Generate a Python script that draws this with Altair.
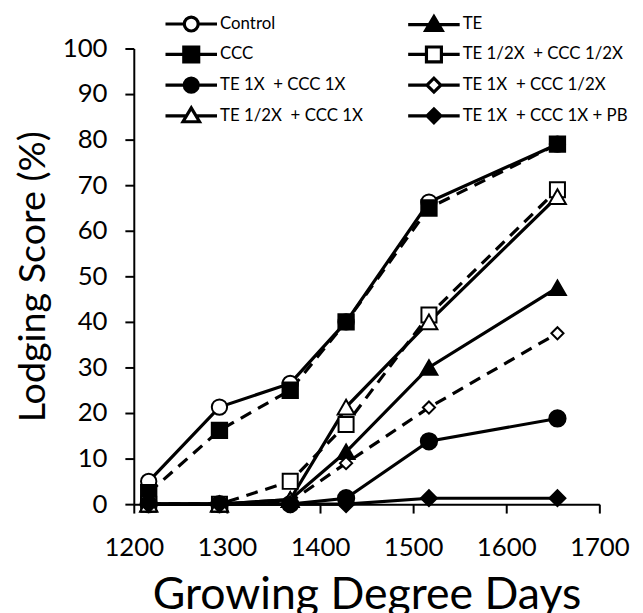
import altair as alt
import pandas as pd

gdd = [1216, 1292, 1368, 1428, 1517, 1655]

series_names = [
    "Control",
    "TE",
    "CCC",
    "TE 1/2X\u00a0 + CCC 1/2X",
    "TE 1X\u00a0 + CCC 1X",
    "TE 1X\u00a0 + CCC 1/2X",
    "TE 1/2X\u00a0 + CCC 1X",
    "TE 1X\u00a0 + CCC 1X + PB",
]

control = [5.0, 21.3, 26.5, 40.0, 66.3, 79.0]
te = [0.0, 0.0, 1.0, 11.5, 30.0, 47.5]
ccc = [2.5, 16.2, 25.0, 40.0, 65.0, 79.0]
te_half_ccc_half = [0.0, 0.0, 5.0, 17.5, 41.5, 69.0]
te_1x_ccc_1x = [0.0, 0.0, 0.0, 1.3, 13.8, 18.8]
te_1x_ccc_half = [0.0, 0.0, 0.5, 9.0, 21.2, 37.5]
te_half_ccc_1x = [0.0, 0.0, 1.0, 21.3, 40.0, 67.5]
te_1x_ccc_1x_pb = [0.0, 0.0, 0.0, 0.0, 1.3, 1.3]

series_values = [control, te, ccc, te_half_ccc_half, te_1x_ccc_1x,
                 te_1x_ccc_half, te_half_ccc_1x, te_1x_ccc_1x_pb]

dashed = [False, False, True, True, False, True, False, False]
fills = ["white", "black", "black", "white", "black", "white", "white", "black"]
shapes = ["circle", "triangle-up", "square", "square", "circle", "diamond", "triangle-up", "diamond"]
sizes = [240, 290, 240, 230, 270, 150, 290, 260]

# legend symbols: line segments with the marker in the middle
circ = "M-2,0H-0.54M0.54,0H2M0.54,0A0.54,0.54,0,1,1,-0.54,0A0.54,0.54,0,1,1,0.54,0Z"
tri = "M-2,0H-0.36M0.36,0H2M0,-0.62L0.64,0.46L-0.64,0.46Z"
sq = "M-2,0H-0.58M0.58,0H2M-0.58,-0.58H0.58V0.58H-0.58Z"
dia = "M-2,0H-0.54M0.54,0H2M-0.54,0L0,-0.54L0.54,0L0,0.54Z"
legend_paths = [circ, tri, sq, sq, circ, dia, tri, dia]

# legend fills its columns top to bottom: left column first, then right column
legend_order = [0, 2, 4, 6, 1, 3, 5, 7]
leg_domain = [series_names[i] for i in legend_order]
leg_paths = [legend_paths[i] for i in legend_order]
leg_fills = [fills[i] for i in legend_order]

rows = []
for name, vals in zip(series_names, series_values):
    for x, y in zip(gdd, vals):
        rows.append({"series": name, "gdd": x, "score": y})
df = pd.DataFrame(rows)

FONT = "Lato"

x_enc = alt.X("gdd:Q", scale=alt.Scale(domain=[1200, 1700]),
              axis=alt.Axis(values=list(range(1200, 1701, 100)), format="d",
                            title="Growing Degree Days", labelFlush=False,
                            labelFontSize=26, titleFontSize=45, labelPadding=22,
                            titlePadding=12))
y_enc = alt.Y("score:Q", scale=alt.Scale(domain=[0, 100]),
              axis=alt.Axis(values=list(range(0, 101, 10)),
                            title="Lodging Score (%)", labelFlush=False,
                            labelFontSize=26, titleFontSize=38, labelPadding=18,
                            titlePadding=10))

base = alt.Chart(df)

line_layers = []
for name, d in zip(series_names, dashed):
    kw = dict(color="black", strokeWidth=3.2)
    if d:
        kw["strokeDash"] = [12, 8]
    line_layers.append(
        base.transform_filter(alt.datum.series == name)
        .mark_line(**kw)
        .encode(x=x_enc, y=y_enc)
    )

leg_common = dict(title=None, orient="none", legendX=43, legendY=-40, columns=2,
                  columnPadding=38, rowPadding=2, labelFont=FONT, labelFontSize=17,
                  labelColor="black", symbolSize=676, symbolStrokeWidth=3.2,
                  symbolOpacity=1, labelOffset=14, padding=0, labelLimit=400)

legend_layer = base.mark_point(filled=True, strokeWidth=3, opacity=0, size=676).encode(
    x=x_enc, y=y_enc,
    shape=alt.Shape("series:N", scale=alt.Scale(domain=leg_domain, range=leg_paths),
                    legend=alt.Legend(**leg_common)),
    fill=alt.Fill("series:N", scale=alt.Scale(domain=leg_domain, range=leg_fills),
                  legend=alt.Legend(**leg_common)),
    stroke=alt.Stroke("series:N", scale=alt.Scale(domain=leg_domain, range=["black"] * 8),
                      legend=alt.Legend(**leg_common)),
)

point_layers = []
for name, shp, fc, sz in zip(series_names, shapes, fills, sizes):
    point_layers.append(
        base.transform_filter(alt.datum.series == name)
        .mark_point(shape=shp, filled=True, fill=fc, stroke="black",
                    strokeWidth=2, size=sz, opacity=1)
        .encode(x=x_enc, y=y_enc)
    )

chart = alt.layer(*line_layers, legend_layer, *point_layers).properties(
    width=470, height=460,
    autosize=alt.AutoSizeParams(type="none"),
    padding={"left": 127, "top": 38, "right": 36, "bottom": 107},
).configure_view(stroke=None).configure_axis(
    grid=False, domainColor="black", domainWidth=2, tickColor="black", tickWidth=2,
    tickSize=9, labelColor="black", titleColor="black", labelFont=FONT, titleFont=FONT,
    titleFontWeight="normal",
)

chart.save("out.html", embed_options={"renderer": "svg", "actions": False})
